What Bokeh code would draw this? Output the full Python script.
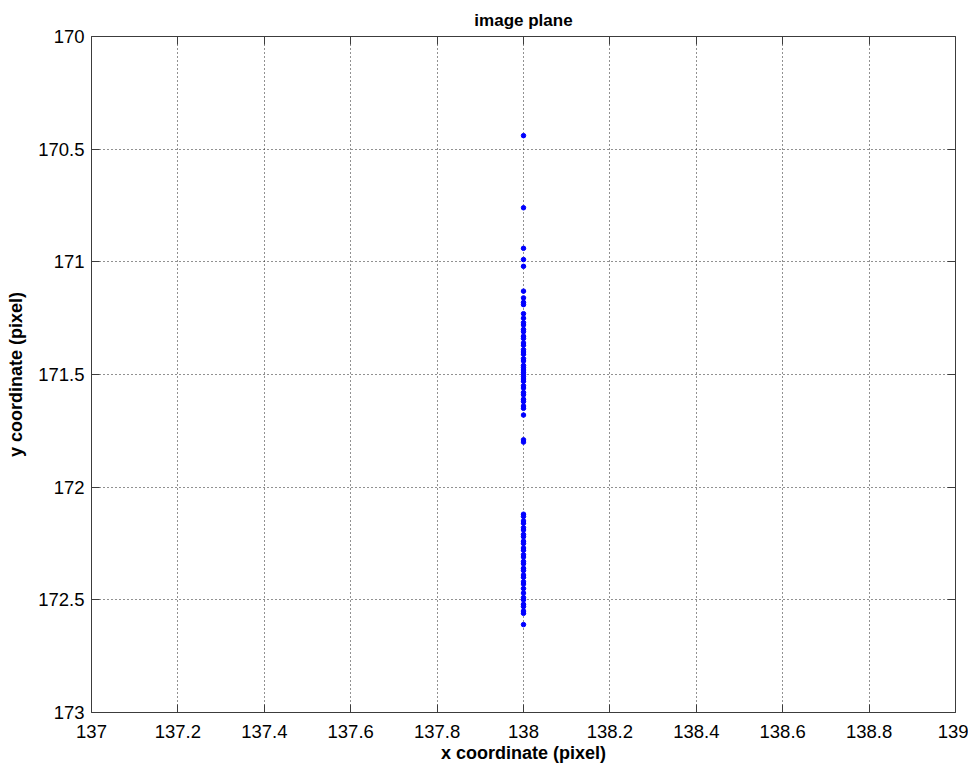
from bokeh.plotting import figure
from bokeh.models import Range1d, FixedTicker, LinearAxis, CustomJSTickFormatter, ColumnDataSource
from bokeh.embed import file_html
from bokeh.resources import INLINE

# Measured image-plane positions of the tracked point (pixels)
y_pixel = [170.44, 170.76, 170.94, 170.99, 171.02, 171.13, 171.16, 171.18, 171.19,
           171.23, 171.25, 171.27, 171.28, 171.30, 171.31, 171.33, 171.34, 171.36,
           171.37, 171.39, 171.40, 171.41, 171.43, 171.44, 171.46, 171.47, 171.48,
           171.49, 171.50, 171.51, 171.52, 171.53, 171.55, 171.56, 171.58, 171.59,
           171.61, 171.62, 171.64, 171.65, 171.68, 171.79, 171.80, 172.12, 172.13,
           172.15, 172.16, 172.18, 172.19, 172.21, 172.22, 172.24, 172.25, 172.27,
           172.28, 172.30, 172.31, 172.33, 172.34, 172.36, 172.37, 172.39, 172.40,
           172.42, 172.43, 172.45, 172.47, 172.49, 172.50, 172.52, 172.53, 172.55,
           172.56, 172.61]
x_column = 138.0
x_pixel = [x_column] * len(y_pixel)

x_ticks = [137.0, 137.2, 137.4, 137.6, 137.8, 138.0, 138.2, 138.4, 138.6, 138.8, 139.0]
y_ticks = [170.0, 170.5, 171.0, 171.5, 172.0, 172.5, 173.0]

FONT = "Liberation Sans"
AXIS_COLOR = "#3c3c3c"

src = ColumnDataSource(data=dict(x=x_pixel, y=y_pixel))

p = figure(width=968, height=769, output_backend="svg", toolbar_location=None,
           x_range=Range1d(137, 139), y_range=Range1d(173, 170),
           min_border_left=91, min_border_right=13, min_border_top=36, min_border_bottom=57,
           x_axis_label="x coordinate (pixel)", y_axis_label="y coordinate (pixel)",
           title="image plane")

p.title.align = "center"
p.title.vertical_align = "top"
p.title.text_font = FONT
p.title.text_font_size = "17px"
p.title.text_font_style = "bold"
p.title.text_color = "black"
p.title.standoff = 10

fmt = CustomJSTickFormatter(code="return String(Math.round(tick * 10) / 10);")
blank = CustomJSTickFormatter(code="return '';")

for ax, ticks in ((p.xaxis[0], x_ticks), (p.yaxis[0], y_ticks)):
    ax.ticker = FixedTicker(ticks=ticks)
    ax.formatter = fmt
    ax.major_label_text_font = FONT
    ax.major_label_text_font_size = "18.5px"
    ax.major_label_text_color = "black"
    ax.axis_label_text_font = FONT
    ax.axis_label_text_font_size = "18px"
    ax.axis_label_text_font_style = "bold"
    ax.axis_label_text_color = "black"
    ax.axis_line_color = AXIS_COLOR
    ax.major_tick_line_color = AXIS_COLOR
    ax.major_tick_in = 8
    ax.major_tick_out = 0
    ax.minor_tick_line_color = None

p.xaxis[0].major_label_standoff = 12
p.xaxis[0].axis_label_standoff = 2
p.yaxis[0].major_label_standoff = 7
p.yaxis[0].axis_label_standoff = 9

# Box axes on the top and right with ticks only
for loc, ticks in (("above", x_ticks), ("right", y_ticks)):
    ax = LinearAxis(ticker=FixedTicker(ticks=ticks), formatter=blank,
                    axis_line_color=AXIS_COLOR, major_tick_line_color=AXIS_COLOR,
                    major_tick_in=8, major_tick_out=0, minor_tick_line_color=None,
                    major_label_standoff=0)
    p.add_layout(ax, loc)

p.xgrid.ticker = FixedTicker(ticks=x_ticks)
p.ygrid.ticker = FixedTicker(ticks=y_ticks)
for g in (p.xgrid[0], p.ygrid[0]):
    g.grid_line_color = "#222222"
    g.grid_line_dash = "1 3"
    g.grid_line_width = 1

p.outline_line_color = None
p.background_fill_color = "white"
p.border_fill_color = "white"

p.scatter("x", "y", source=src, marker="circle", size=4.5, fill_color="#0000ff",
          line_color="#0000ff")

open("out.html", "w").write(file_html(p, INLINE))
